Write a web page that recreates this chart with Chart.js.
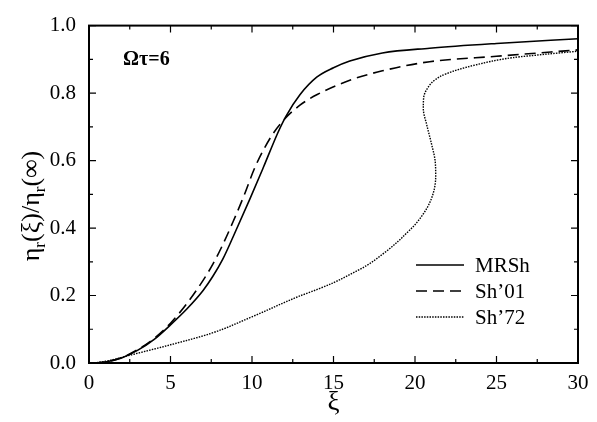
<!DOCTYPE html>
<html>
<head>
<meta charset="utf-8">
<script src="https://cdn.jsdelivr.net/npm/chart.js@4.4.1/dist/chart.umd.min.js"></script>
<style>
  html, body { margin: 0; padding: 0; background: #fff; }
  #wrap { width: 597px; height: 422px; }
</style>
</head>
<body>
<div id="wrap"><canvas id="c"></canvas></div>
<script>
// Data
const xTicks = [0, 5, 10, 15, 20, 25, 30];
const yTicks = [0, 0.2, 0.4, 0.6, 0.8, 1.0];
const xMinor = [2.5, 7.5, 12.5, 17.5, 22.5, 27.5];
const yMinor = [0.1, 0.3, 0.5, 0.7, 0.9];

const mrshX = [0.3, 1, 2, 3, 4, 5, 6, 7, 7.6, 8.2, 8.85, 9.88, 10.7, 11.6, 12.09, 12.94, 13.97, 15, 16, 18, 20.9, 25, 30];
const mrshY = [0, 0.003, 0.015, 0.038, 0.07, 0.113, 0.16, 0.215, 0.257, 0.307, 0.375, 0.487, 0.58, 0.684, 0.732, 0.795, 0.847, 0.875, 0.895, 0.919, 0.933, 0.947, 0.961];

const sh01X = [0.3, 1, 2, 3, 4, 5, 6, 7, 7.6, 8.2, 8.85, 9.5, 10.2, 11.2, 12, 12.94, 13.97, 16, 18, 20.9, 25, 30];
const sh01Y = [0, 0.003, 0.016, 0.04, 0.073, 0.118, 0.176, 0.245, 0.293, 0.35, 0.42, 0.495, 0.582, 0.673, 0.723, 0.764, 0.795, 0.838, 0.866, 0.893, 0.909, 0.928];

const sh72X = [0.3, 1, 2.5, 5, 7.5, 10, 12.9, 14, 15, 16, 17, 18, 19, 19.4, 20, 20.72, 21.13, 21.27, 21.23, 21.02, 20.72, 20.51, 20.53, 20.8, 21.25, 21.9, 23.68, 26, 28, 30];
const sh72Y = [0, 0.005, 0.023, 0.054, 0.088, 0.137, 0.198, 0.218, 0.238, 0.262, 0.288, 0.322, 0.362, 0.381, 0.41, 0.458, 0.505, 0.553, 0.601, 0.648, 0.706, 0.754, 0.786, 0.817, 0.84, 0.857, 0.883, 0.905, 0.915, 0.924];

const seriesNames = ['MRSh', 'Sh\u201901', 'Sh\u201972'];

const pts = (xs, ys) => xs.map((x, i) => ({ x: x, y: ys[i] }));
const serif = 'Liberation Serif';

// frame, inward ticks, axis titles, note and legend
const decor = {
    id: 'decor',
    afterDraw(chart) {
        const { ctx, chartArea: a, scales: { x, y } } = chart;
        ctx.save();
        ctx.strokeStyle = '#000';
        ctx.lineWidth = 2;
        ctx.strokeRect(a.left, a.top, a.right - a.left, a.bottom - a.top);

        ctx.lineWidth = 1.2;
        ctx.beginPath();
        const tickX = (v, len) => {
            const px = x.getPixelForValue(v);
            ctx.moveTo(px, a.bottom); ctx.lineTo(px, a.bottom - len);
            ctx.moveTo(px, a.top); ctx.lineTo(px, a.top + len);
        };
        const tickY = (v, len) => {
            const py = y.getPixelForValue(v);
            ctx.moveTo(a.left, py); ctx.lineTo(a.left + len, py);
            ctx.moveTo(a.right, py); ctx.lineTo(a.right - len, py);
        };
        xTicks.forEach(v => tickX(v, 7));
        xMinor.forEach(v => tickX(v, 4));
        yTicks.forEach(v => tickY(v, 7));
        yMinor.forEach(v => tickY(v, 4));
        ctx.stroke();

        ctx.fillStyle = '#000';
        // x title
        ctx.font = '27px ' + serif;
        ctx.textAlign = 'center';
        ctx.textBaseline = 'alphabetic';
        ctx.fillText('\u03be', x.getPixelForValue(15), 410);

        // y title with subscripts
        ctx.save();
        ctx.translate(39, 206);
        ctx.rotate(-Math.PI / 2);
        const parts = [['\u03b7', 0], ['r', 1], ['(\u03be)/\u03b7', 0], ['r', 1], ['(\u221e)', 0]];
        const big = '26px ' + serif, small = '17px ' + serif;
        let w = 0;
        parts.forEach(p => { ctx.font = p[1] ? small : big; w += ctx.measureText(p[0]).width; });
        let cx = -w / 2;
        ctx.textAlign = 'left';
        parts.forEach(p => {
            ctx.font = p[1] ? small : big;
            ctx.fillText(p[0], cx, p[1] ? 6 : 0);
            cx += ctx.measureText(p[0]).width;
        });
        ctx.restore();

        // note
        ctx.font = 'bold 20px ' + serif;
        ctx.textAlign = 'left';
        ctx.textBaseline = 'middle';
        ctx.fillText('\u03a9\u03c4=6', 123, 60);

        // legend
        const rows = [265, 291, 317];
        chart.data.datasets.forEach((ds, i) => {
            ctx.beginPath();
            ctx.strokeStyle = '#000';
            ctx.lineWidth = ds.borderWidth;
            ctx.setLineDash(ds.borderDash || []);
            ctx.moveTo(416, rows[i]);
            ctx.lineTo(464, rows[i]);
            ctx.stroke();
            ctx.setLineDash([]);
            ctx.font = '21px ' + serif;
            ctx.fillText(ds.label, 475, rows[i] + 1);
        });
        ctx.restore();
    }
};

new Chart(document.getElementById('c'), {
    type: 'scatter',
    data: {
        datasets: [{
            label: seriesNames[0],
            data: pts(mrshX, mrshY),
            borderColor: '#000',
            borderWidth: 1.6
        }, {
            label: seriesNames[1],
            data: pts(sh01X, sh01Y),
            borderColor: '#000',
            borderWidth: 1.6,
            borderDash: [11, 6]
        }, {
            label: seriesNames[2],
            data: pts(sh72X, sh72Y),
            indexAxis: 'y',  // monotone along y, the S bends back in x
            borderColor: '#000',
            borderWidth: 1.4,
            borderDash: [1.5, 1.2]
        }]
    },
    options: {
        responsive: true,
        maintainAspectRatio: false,
        animation: false,
        showLine: true,
        elements: {
            point: { radius: 0 },
            line: { cubicInterpolationMode: 'monotone', fill: false }
        },
        layout: { padding: { left: 0, right: 19, top: 14, bottom: 0 } },
        plugins: {
            legend: { display: false },
            tooltip: { enabled: false }
        },
        scales: {
            x: {
                type: 'linear',
                min: 0, max: 30,
                afterFit: s => { s.height = 59; },
                afterBuildTicks: s => { s.ticks = xTicks.map(v => ({ value: v })); },
                grid: { display: false, drawTicks: false },
                border: { display: false },
                ticks: {
                    padding: 8,
                    color: '#000',
                    font: { family: serif, size: 21 },
                    callback: v => v
                }
            },
            y: {
                type: 'linear',
                min: 0, max: 1,
                afterFit: s => { s.width = 89; },
                afterBuildTicks: s => { s.ticks = yTicks.map(v => ({ value: v })); },
                grid: { display: false, drawTicks: false },
                border: { display: false },
                ticks: {
                    padding: 13,
                    color: '#000',
                    font: { family: serif, size: 21 },
                    callback: v => v.toFixed(1)
                }
            }
        }
    },
    plugins: [decor]
});
</script>
</body>
</html>
